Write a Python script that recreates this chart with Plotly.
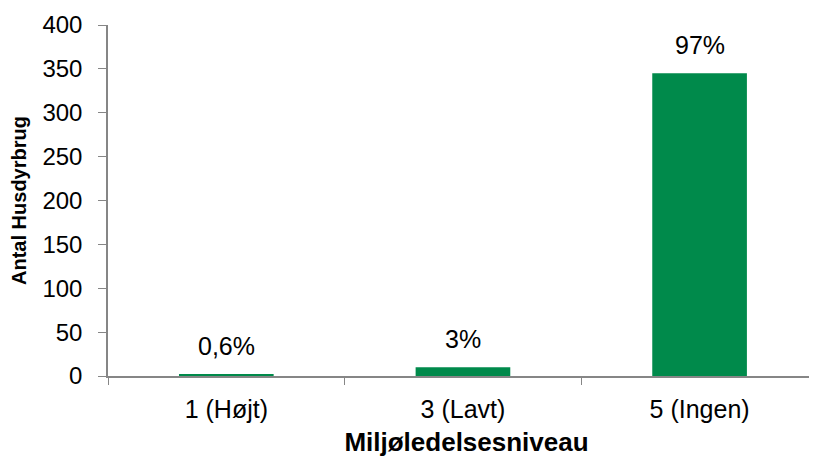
import plotly.graph_objects as go

# data
categories = ["1 (Højt)", "3 (Lavt)", "5 (Ingen)"]
antal = [2, 10, 345]
shares = ["0,6%", "3%", "97%"]

bar_color = "#008A4B"
axis_color = "#868686"
font_family = "Liberation Sans, Arial, sans-serif"

fig = go.Figure()
fig.add_trace(go.Bar(
    x=categories,
    y=antal,
    marker=dict(color=bar_color, line=dict(width=0)),
    showlegend=False,
))

# percentage labels above each bar
for cat, val, lab in zip(categories, antal, shares):
    fig.add_annotation(
        x=cat, y=val, text=lab, showarrow=False,
        yanchor="bottom", yshift=12,
        font=dict(family=font_family, size=25, color="#000000"),
    )

# page body has an 8px margin, so margins are shifted by that
fig.update_layout(
    width=817,
    height=459,
    margin=dict(l=100, r=0, t=17, b=91, autoexpand=False),
    paper_bgcolor="white",
    plot_bgcolor="white",
    bargap=0.6,
    font=dict(family=font_family, size=25, color="#000000"),
)
fig.update_xaxes(
    range=[-0.5, 2.53],
    automargin=False,
    showline=True, linecolor=axis_color, linewidth=1.5,
    ticks="outside", tickson="boundaries", ticklen=7, tickcolor=axis_color,
    ticklabelstandoff=10,
    tickfont=dict(size=25),
    title=dict(text="<b>Miljøledelsesniveau</b>", font=dict(size=26), standoff=11),
    showgrid=False,
)
fig.update_yaxes(
    range=[0, 400],
    dtick=50,
    automargin=False,
    showline=True, linecolor=axis_color, linewidth=1.5,
    ticks="outside", ticklen=8, tickcolor=axis_color,
    ticklabelstandoff=11,
    tickfont=dict(size=24),
    title=dict(text="<b>Antal Husdyrbrug</b>", font=dict(size=20), standoff=12),
    showgrid=False, zeroline=False,
)

fig.write_html("out.html")
